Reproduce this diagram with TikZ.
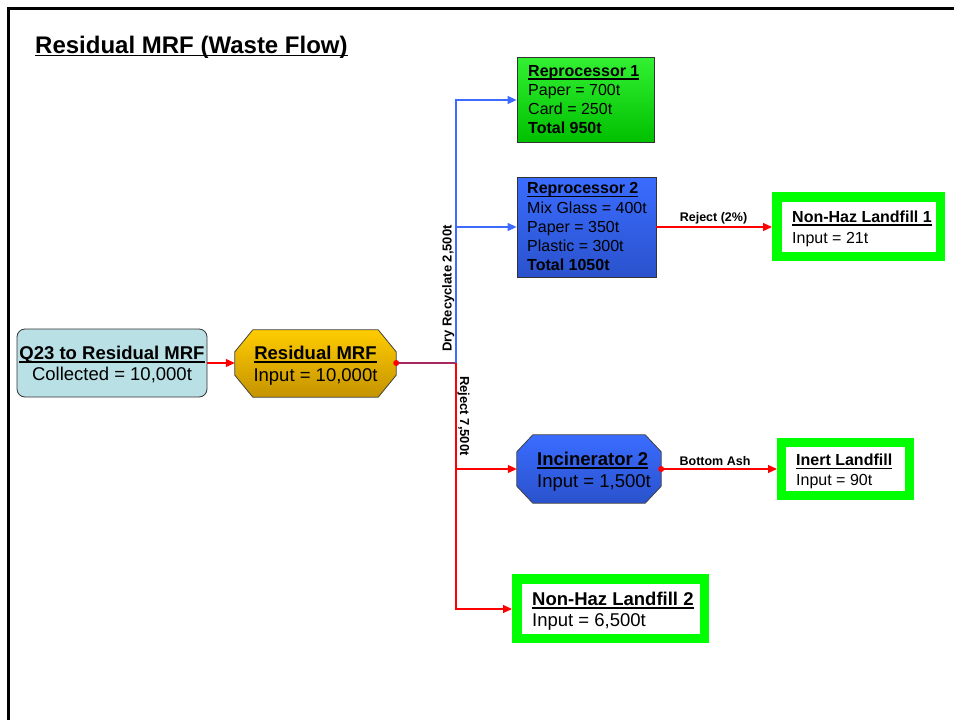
\documentclass[tikz,border=0pt]{standalone}
\usepackage{fontspec}
\setmainfont{Liberation Sans}
\usetikzlibrary{arrows.meta,calc}
\definecolor{qblue}{HTML}{B9E0E4}
\definecolor{gold1}{HTML}{FFCC00}
\definecolor{gold2}{HTML}{C49300}
\definecolor{grn1}{HTML}{33F033}
\definecolor{grn2}{HTML}{00C000}
\definecolor{blu1}{HTML}{3A6CFF}
\definecolor{blu2}{HTML}{2A52CC}
\definecolor{lgreen}{HTML}{00FF00}
\definecolor{flowblue}{HTML}{3D6BFF}
\definecolor{flowred}{HTML}{FF0000}
\definecolor{flowpurple}{HTML}{A8285E}
\newsavebox\ulbox
\newcommand\myul[1]{\sbox\ulbox{#1}\rlap{\rule[-3.4pt]{\wd\ulbox}{1.7pt}}\usebox\ulbox}
\newcommand\hd[1]{\textbf{\myul{#1}}}
\tikzset{
  boxshape/.style={draw=black!80, line width=0.8pt, inner sep=0},
  hidden/.style={draw=none, inner sep=0},
  landfill/.style={draw=lgreen, line width=9.5pt, fill=white, inner sep=0},
  txt/.style={inner sep=0, anchor=north west, align=left},
  ctxt/.style={inner sep=0, anchor=north, align=center},
  flow/.style={line width=1.2pt, -{Triangle[length=9pt,width=8pt]}},
  lbl/.style={inner sep=0, anchor=base, font=\fontsize{12.5}{14}\selectfont\bfseries},
  rlbl/.style={inner sep=0, anchor=base, font=\fontsize{13}{15}\selectfont\bfseries},
  dot/.style={circle, fill=flowred, inner sep=0, minimum size=6pt}
}
\begin{document}
\begin{tikzpicture}[x=1pt,y=-1pt]
\useasboundingbox (0,0) rectangle (954,720);
% frame
\draw[line width=2.5pt] (8.7,720) -- (8.7,8.7) -- (954,8.7);
% title
\node[inner sep=0, anchor=base west, font=\fontsize{24}{28}\selectfont] (title) at (35,53) {\hd{Residual MRF (Waste Flow)}};

% Q23
\node[boxshape, fill=qblue, rounded corners=8pt, minimum width=190pt, minimum height=68pt] (q23) at (112,363) {};
\node[ctxt, font=\fontsize{18.5}{21}\selectfont] (q23t) at (112,346) {\hd{Q23 to Residual MRF}\\Collected = 10,000t};

% Residual MRF octagon
\node[hidden, minimum width=161pt, minimum height=67pt] (mrf) at (315.5,363.5) {};
\shadedraw[top color=gold1, bottom color=gold2, draw=black!75, line width=0.8pt]
  ([xshift=18pt]mrf.north west) -- ([xshift=-18pt]mrf.north east) -- ([yshift=-22pt]mrf.north east)
  -- ([yshift=22pt]mrf.south east) -- ([xshift=-18pt]mrf.south east) -- ([xshift=18pt]mrf.south west)
  -- ([yshift=22pt]mrf.south west) -- ([yshift=-22pt]mrf.north west) -- cycle;
\node[ctxt, font=\fontsize{18.5}{22.5}\selectfont] (mrft) at (315.5,345.7) {\hd{Residual MRF}\\Input = 10,000t};

% Reprocessor 1
\node[boxshape, top color=grn1, bottom color=grn2, minimum width=137pt, minimum height=85pt] (rep1) at (585.5,99.5) {};
\node[txt, font=\fontsize{16}{19}\selectfont] (rep1t) at (528,65.5) {\hd{Reprocessor 1}\\Paper = 700t\\Card = 250t\\\textbf{Total 950t}};

% Reprocessor 2
\node[boxshape, top color=blu1, bottom color=blu2, minimum width=139pt, minimum height=100pt] (rep2) at (586.5,227) {};
\node[txt, font=\fontsize{16}{19.25}\selectfont] (rep2t) at (527,182.5) {\hd{Reprocessor 2}\\Mix Glass = 400t\\Paper = 350t\\Plastic = 300t\\\textbf{Total 1050t}};

% Incinerator 2 octagon
\node[hidden, minimum width=144pt, minimum height=68pt] (inc) at (589,469) {};
\shadedraw[top color=blu1, bottom color=blu2, draw=black!75, line width=0.8pt]
  ([xshift=16pt]inc.north west) -- ([xshift=-16pt]inc.north east) -- ([yshift=-17pt]inc.north east)
  -- ([yshift=17pt]inc.south east) -- ([xshift=-16pt]inc.south east) -- ([xshift=16pt]inc.south west)
  -- ([yshift=17pt]inc.south west) -- ([yshift=-17pt]inc.north west) -- cycle;
\node[txt, font=\fontsize{18.5}{22}\selectfont] (inct) at (537,451.7) {\hd{Incinerator 2}\\Input = 1,500t};

% Landfills
\node[landfill, minimum width=163.5pt, minimum height=59.5pt] (nhl1) at (858.5,226.5) {};
\node[txt, font=\fontsize{16}{21}\selectfont] (nhl1t) at (792,210.5) {\hd{Non-Haz Landfill 1}\\Input = 21t};

\node[landfill, line width=9pt, minimum width=128pt, minimum height=53pt] (inert) at (845.5,469) {};
\node[txt, font=\fontsize{16}{19.5}\selectfont] (inertt) at (796,454.2) {\hd{Inert Landfill}\\Input = 90t};

\node[landfill, minimum width=187.5pt, minimum height=59.5pt] (nhl2) at (610.5,608.5) {};
\node[txt, font=\fontsize{18.5}{21}\selectfont] (nhl2t) at (532,591.7) {\hd{Non-Haz Landfill 2}\\Input = 6,500t};

% connectors
\coordinate (j) at (456,363);
\draw[flow, flowred] (q23.east) -- (q23.east -| mrf.west);
\draw[line width=1.6pt, flowpurple] (mrf.east |- j) -- (j);
\draw[flow, flowblue] (j) |- (rep1.west |- 0,100);
\draw[flow, flowblue] (j |- rep2.west) -- (rep2.west);
\draw[flow, flowred] (j) |- (nhl2.west |- 0,609);
\draw[flow, flowred] (j |- inc.west) -- (inc.west);
\draw[flow, flowred] (rep2.east) -- (rep2.east -| nhl1.west);
\draw[flow, flowred] (inc.east) -- (inc.east -| inert.west);
\node[dot] (d1) at (mrf.east |- j) {};
\node[dot] (d2) at (inc.east) {};

% labels
\node[lbl] (l1) at (713.5,221.7) {Reject (2\%)};
\node[lbl] (l2) at (715,465) {Bottom Ash};
\node[rlbl, rotate=90] (l3) at (451.5,288.5) {Dry Recyclate 2,500t};
\node[rlbl, rotate=-90] (l4) at (460,416) {Reject 7,500t};
\end{tikzpicture}
\end{document}
